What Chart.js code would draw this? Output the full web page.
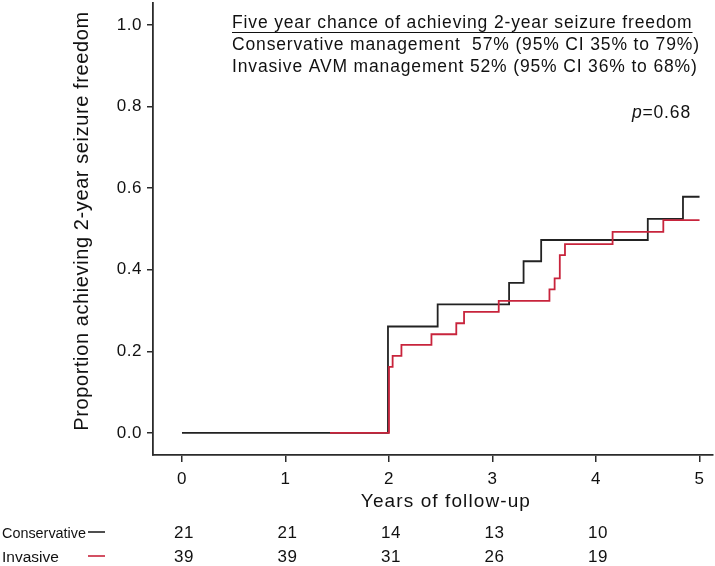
<!DOCTYPE html>
<html>
<head>
<meta charset="utf-8">
<script src="https://cdn.jsdelivr.net/npm/chart.js@4.4.1/dist/chart.umd.min.js"></script>
<style>
  body { margin: 0; background: #fff; }
  canvas { display: block; }
</style>
</head>
<body>
<canvas id="kmChart" width="715" height="566"></canvas>
<script>
const xTicks = [0, 1, 2, 3, 4, 5];
const yTicks = [0, 0.2, 0.4, 0.6, 0.8, 1.0];

const conservativeTimes = [0, 1.99, 2.47, 3.16, 3.30, 3.47, 4.50, 4.84, 5.0];
const conservativeValues = [0, 0.261, 0.315, 0.368, 0.421, 0.473, 0.525, 0.579, 0.579];

const invasiveTimes = [1.43, 2.0, 2.035, 2.12, 2.41, 2.65, 2.725, 3.06, 3.55, 3.60, 3.65, 3.70, 4.16, 4.65, 5.0];
const invasiveValues = [0, 0.162, 0.189, 0.216, 0.242, 0.269, 0.297, 0.324, 0.352, 0.379, 0.436, 0.463, 0.493, 0.522, 0.522];

const riskTimes = [0, 1, 2, 3, 4];
const conservativeAtRisk = [21, 21, 14, 13, 10];
const invasiveAtRisk = [39, 39, 31, 26, 19];

const groupNames = ["Conservative", "Invasive"];
const groupColors = ["#222222", "#c8243c"];

const noteTitle = "Five year chance of achieving 2-year seizure freedom";
const noteLines = [
    "Conservative management  57% (95% CI 35% to 79%)",
    "Invasive AVM management 52% (95% CI 36% to 68%)"
];
const pValue = "0.68";
const yTitle = "Proportion achieving 2-year seizure freedom";
const xTitle = "Years of follow-up";

const FONT = "'Liberation Sans', Arial, sans-serif";
const AXIS_COLOR = "#2b2b2b";

function toPoints(times, values) {
    return times.map((t, i) => ({ x: t, y: values[i] }));
}

const spacing = {
    id: "spacing",
    beforeDraw(chart) {
        chart.ctx.letterSpacing = "0.5px";
    }
};

// text outside the plot: note block, titles and numbers-at-risk table
const extraText = {
    id: "extraText",
    afterDraw(chart) {
        const ctx = chart.ctx;
        const x = chart.scales.x;
        ctx.save();
        ctx.fillStyle = "#111";
        ctx.textBaseline = "alphabetic";

        // note block
        ctx.font = "17.5px " + FONT;
        ctx.letterSpacing = "0.85px";
        ctx.textAlign = "left";
        ctx.fillText(noteTitle, 232, 28);
        const w = ctx.measureText(noteTitle).width;
        ctx.strokeStyle = "#111";
        ctx.lineWidth = 1;
        ctx.beginPath();
        ctx.moveTo(232, 32.5);
        ctx.lineTo(232 + w, 32.5);
        ctx.stroke();
        noteLines.forEach((line, i) => {
            ctx.fillText(line, 232, 49.5 + i * 22);
        });

        // p value, italic p
        ctx.textAlign = "right";
        ctx.fillText("=" + pValue, 691, 118);
        const restW = ctx.measureText("=" + pValue).width;
        ctx.font = "italic 17.5px " + FONT;
        ctx.fillText("p", 691 - restW, 118);

        // y axis title
        ctx.save();
        ctx.font = "20px " + FONT;
        ctx.letterSpacing = "0.6px";
        ctx.textAlign = "center";
        ctx.textBaseline = "middle";
        ctx.translate(82, 221);
        ctx.rotate(-Math.PI / 2);
        ctx.fillText(yTitle, 0, 0);
        ctx.restore();

        // x axis title
        ctx.font = "19px " + FONT;
        ctx.letterSpacing = "1.1px";
        ctx.textAlign = "center";
        ctx.fillText(xTitle, x.getPixelForValue(2.55), 507);

        // numbers at risk
        const rows = [conservativeAtRisk, invasiveAtRisk];
        rows.forEach((row, r) => {
            const y = 538 + r * 24;
            ctx.textAlign = "left";
            ctx.fillStyle = "#111";
            ctx.font = "15.5px " + FONT;
            ctx.letterSpacing = "0px";
            ctx.fillText(groupNames[r], 2, y, 84);
            ctx.strokeStyle = groupColors[r];
            ctx.lineWidth = 1.6;
            ctx.beginPath();
            ctx.moveTo(88, y - 6);
            ctx.lineTo(105, y - 6);
            ctx.stroke();
            ctx.font = "17px " + FONT;
            ctx.letterSpacing = "0.5px";
            ctx.textAlign = "center";
            row.forEach((n, i) => {
                ctx.fillText(String(n), x.getPixelForValue(riskTimes[i]) + 2, y);
            });
        });
        ctx.restore();
    }
};

new Chart(document.getElementById("kmChart"), {
    type: "line",
    data: {
        datasets: [
            {
                label: groupNames[1],
                data: toPoints(invasiveTimes, invasiveValues),
                borderColor: groupColors[1],
                borderWidth: 1.8,
                stepped: "before",
                pointRadius: 0,
                fill: false
            },
            {
                label: groupNames[0],
                data: toPoints(conservativeTimes, conservativeValues),
                borderColor: groupColors[0],
                borderWidth: 1.8,
                stepped: "before",
                pointRadius: 0,
                fill: false
            }
        ]
    },
    options: {
        responsive: false,
        animation: false,
        layout: { padding: { left: 0, right: 2, top: 3, bottom: 0 } },
        plugins: {
            legend: { display: false },
            tooltip: { enabled: false }
        },
        scales: {
            x: {
                type: "linear",
                min: -0.28,
                max: 5.13,
                afterBuildTicks(scale) {
                    scale.ticks = xTicks.map(v => ({ value: v }));
                },
                afterFit(scale) {
                    scale.height = 111;
                    scale.paddingLeft = 0;
                    scale.paddingRight = 0;
                },
                grid: {
                    display: true,
                    drawOnChartArea: false,
                    drawTicks: true,
                    tickLength: 7,
                    color: AXIS_COLOR,
                    lineWidth: 1.5
                },
                border: { display: true, color: AXIS_COLOR, width: 1.8 },
                ticks: {
                    color: "#111",
                    padding: 7,
                    maxRotation: 0,
                    font: { family: FONT, size: 17 },
                    callback: v => String(v)
                }
            },
            y: {
                type: "linear",
                min: -0.054,
                max: 1.054,
                afterBuildTicks(scale) {
                    scale.ticks = yTicks.map(v => ({ value: v }));
                },
                afterFit(scale) {
                    scale.width = 153;
                    scale.paddingTop = 0;
                    scale.paddingBottom = 0;
                },
                grid: {
                    display: true,
                    drawOnChartArea: false,
                    drawTicks: true,
                    tickLength: 6,
                    color: AXIS_COLOR,
                    lineWidth: 1.5
                },
                border: { display: true, color: AXIS_COLOR, width: 1.8 },
                ticks: {
                    color: "#111",
                    padding: 5,
                    font: { family: FONT, size: 17 },
                    callback: v => v.toFixed(1)
                }
            }
        }
    },
    plugins: [spacing, extraText]
});
</script>
</body>
</html>
